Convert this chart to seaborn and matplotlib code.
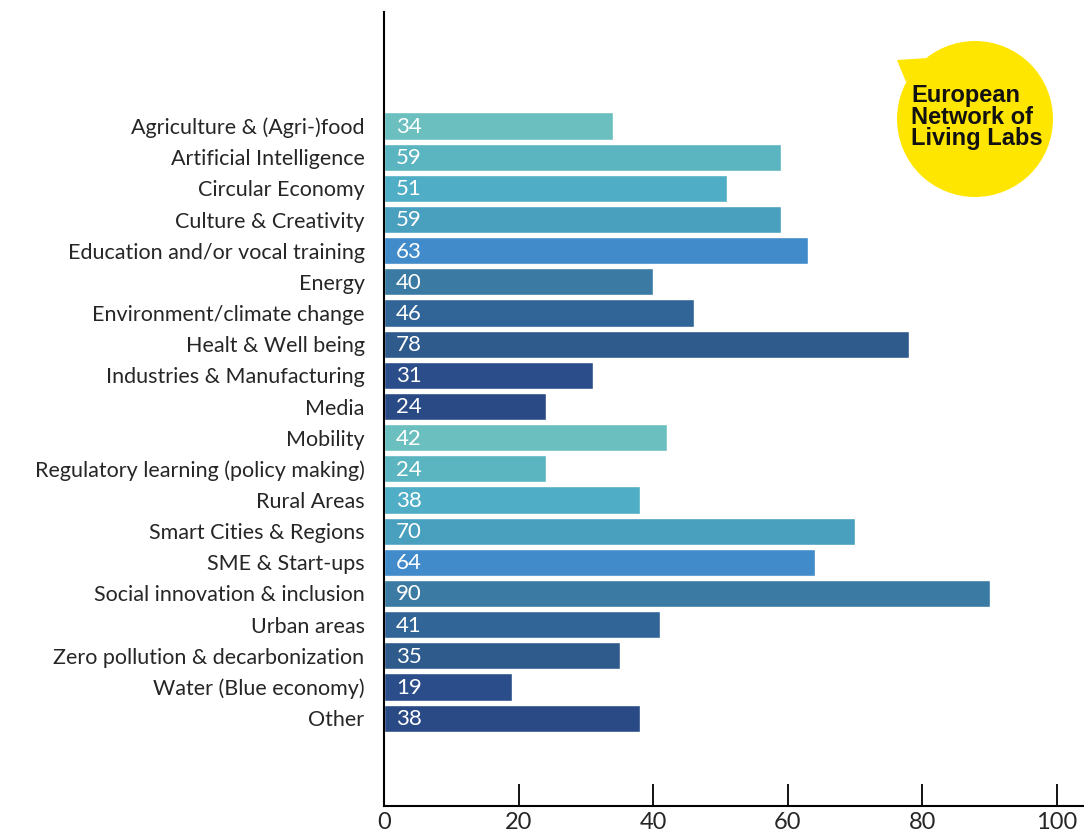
import pandas as pd
import matplotlib.pyplot as plt
from matplotlib.patches import Circle, Polygon
import seaborn as sns

categories = ['Agriculture & (Agri-)food', 'Artificial Intelligence', 'Circular Economy',
              'Culture & Creativity', 'Education and/or vocal training', 'Energy',
              'Environment/climate change', 'Healt & Well being', 'Industries & Manufacturing',
              'Media', 'Mobility', 'Regulatory learning (policy making)', 'Rural Areas',
              'Smart Cities & Regions', 'SME & Start-ups', 'Social innovation & inclusion',
              'Urban areas', 'Zero pollution & decarbonization', 'Water (Blue economy)', 'Other']
counts = [34, 59, 51, 59, 63, 40, 46, 78, 31, 24, 42, 24, 38, 70, 64, 90, 41, 35, 19, 38]
shades = ['#6bbfbf', '#5ab5c0', '#4fadc5', '#48a0be', '#418bca',
          '#3a7aa3', '#326597', '#2e5a8c', '#2b4e8a', '#2a4a85']
xticks = [0, 20, 40, 60, 80, 100]

df = pd.DataFrame({'cat': categories, 'n': counts})
palette = {c: shades[i % len(shades)] for i, c in enumerate(categories)}

sns.set_style('white')
plt.rcParams['font.family'] = ['Lato', 'DejaVu Sans']

fig = plt.figure(figsize=(10.84, 8.39), dpi=100)
ax = fig.add_axes([384/1084, 1 - 806/839, 1 - 384/1084, (806 - 12)/839])
sns.barplot(data=df, x='n', y='cat', hue='cat', palette=palette, legend=False,
            orient='h', width=0.87, saturation=1, ax=ax)

for i, v in enumerate(counts):
    ax.text(1.8, i + 0.03, str(v), color='white', va='center', ha='left', fontsize=16)

ax.set_xlim(0, 104)
ax.set_ylim(19 + 2.82, -3.66)
ax.set_xticks(xticks)
ax.set_xlabel('')
ax.set_ylabel('')
ax.tick_params(axis='x', direction='in', length=16, width=1.3, color='black',
               labelsize=17, pad=4, bottom=True)
ax.tick_params(axis='y', length=0, labelsize=15.5, pad=14)
for s in ['top', 'right']:
    ax.spines[s].set_visible(False)
for s in ['left', 'bottom']:
    ax.spines[s].set_color('black')
    ax.spines[s].set_linewidth(1.5)

# ENoLL logo (pixel coordinates)
lax = fig.add_axes([880/1084, 1 - 210/839, 200/1084, 180/839])
lax.set_xlim(880, 1080)
lax.set_ylim(210, 30)
lax.axis('off')
lax.add_patch(Circle((975, 119), 78, color='#ffe600', lw=0))
lax.add_patch(Polygon([(897, 60), (928, 58), (906, 82)], closed=True, color='#ffe600', lw=0))
lax.text(911, 117, 'European\nNetwork of\nLiving Labs', fontsize=17, fontweight='bold',
         family='Liberation Sans', va='center', ha='left', linespacing=0.93, color='#111111')

fig.savefig('out.png', dpi=100)
